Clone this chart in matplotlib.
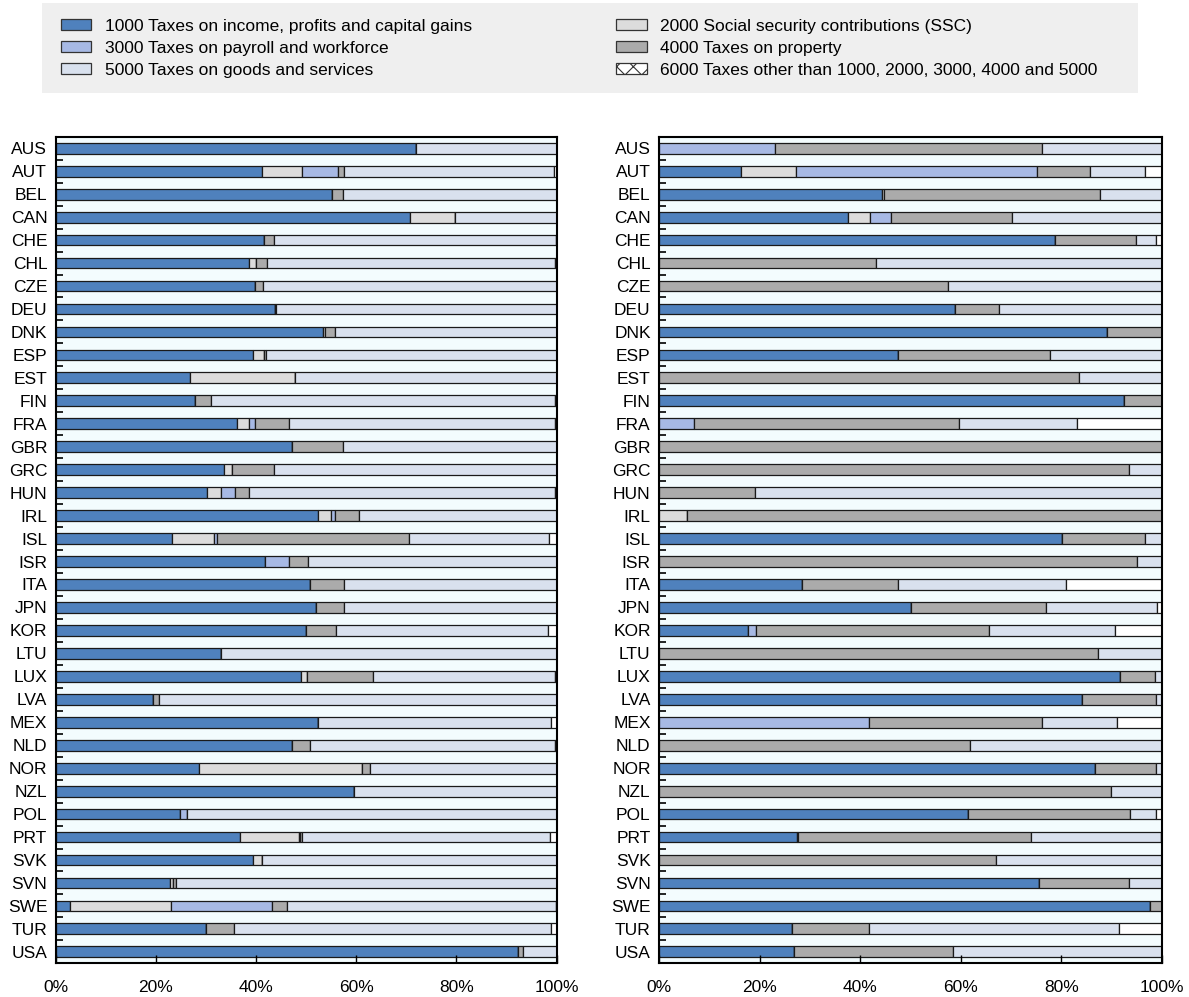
import matplotlib
matplotlib.use("Agg")
import matplotlib.pyplot as plt
from matplotlib.patches import Patch, Rectangle
from matplotlib.ticker import FixedLocator, PercentFormatter

plt.rcParams['font.family'] = ['Liberation Sans', 'DejaVu Sans']
plt.rcParams['hatch.linewidth'] = 0.8

countries = ['AUS', 'AUT', 'BEL', 'CAN', 'CHE', 'CHL', 'CZE', 'DEU', 'DNK', 'ESP', 'EST', 'FIN',
             'FRA', 'GBR', 'GRC', 'HUN', 'IRL', 'ISL', 'ISR', 'ITA', 'JPN', 'KOR', 'LTU', 'LUX',
             'LVA', 'MEX', 'NLD', 'NOR', 'NZL', 'POL', 'PRT', 'SVK', 'SVN', 'SWE', 'TUR', 'USA']

labels = ['1000 Taxes on income, profits and capital gains',
          '2000 Social security contributions (SSC)',
          '3000 Taxes on payroll and workforce',
          '4000 Taxes on property',
          '5000 Taxes on goods and services',
          '6000 Taxes other than 1000, 2000, 3000, 4000 and 5000']
colors = ['#4F81BD', '#DCDCDC', '#A7B9E4', '#ABABAB', '#D9E1EE', '#FFFFFF']

# shares (%) by tax category, left panel
left_1000 = [72.0, 41.2, 55.1, 70.8, 41.5, 38.5, 39.8, 43.7, 53.4, 39.4, 26.9, 27.9,
             36.2, 47.1, 33.7, 30.3, 52.4, 23.2, 41.8, 50.8, 52.0, 49.9, 33.0, 48.9,
             19.4, 52.3, 47.2, 28.6, 59.6, 24.9, 36.8, 39.3, 22.8, 2.8, 30.0, 92.2]
left_2000 = [0, 8.0, 0, 8.9, 0, 1.4, 0, 0, 0.4, 2.2, 20.8, 0,
             2.4, 0, 1.5, 2.8, 2.6, 8.4, 0, 0, 0, 0, 0, 1.2,
             0, 0, 0, 32.6, 0, 0, 11.8, 1.8, 0.7, 20.2, 0, 0]
left_3000 = [0, 7.1, 0, 0, 0, 0, 0, 0, 0, 0, 0, 0,
             1.1, 0, 0, 2.6, 0.7, 0.7, 4.8, 0, 0, 0, 0, 0,
             0, 0, 0, 0, 0, 1.4, 0.2, 0, 0, 20.1, 0, 0]
left_4000 = [0, 1.3, 2.3, 0, 2.0, 2.2, 1.5, 0.2, 2.0, 0.4, 0, 3.1,
             6.9, 10.2, 8.4, 2.8, 4.8, 38.3, 3.8, 6.8, 5.5, 6.1, 0, 13.3,
             1.2, 0, 3.6, 1.5, 0, 0, 0.4, 0, 0.6, 3.0, 5.6, 1.1]
left_5000 = [28.0, 41.9, 42.6, 20.3, 56.3, 57.5, 58.7, 56.1, 44.2, 58.0, 52.3, 68.6,
             53.0, 42.7, 56.4, 61.1, 39.5, 27.9, 49.6, 42.4, 42.5, 42.3, 67.0, 36.2,
             79.4, 46.6, 48.8, 37.3, 40.4, 73.7, 49.4, 58.9, 75.9, 53.7, 63.2, 6.7]
left_6000 = [0, 0.5, 0, 0, 0.2, 0.4, 0, 0, 0, 0, 0, 0.4,
             0.4, 0, 0, 0.4, 0, 1.5, 0, 0, 0, 1.7, 0, 0.4,
             0, 1.1, 0.4, 0, 0, 0, 1.4, 0, 0, 0.2, 1.2, 0]

# shares (%) by tax category, right panel
right_1000 = [0, 16.3, 44.3, 37.5, 78.7, 0, 0, 58.8, 89.1, 47.5, 0, 92.4,
              0, 0, 0, 0, 0, 80.2, 0, 28.5, 50.0, 17.6, 0, 91.6,
              84.0, 0, 0, 86.6, 0, 61.4, 27.4, 0, 75.5, 97.7, 26.5, 26.8]
right_2000 = [0, 11.0, 0.5, 4.5, 0, 0, 0, 0, 0, 0, 0, 0,
              0, 0, 0, 0, 5.5, 0, 0, 0, 0, 0, 0, 0,
              0, 0, 0, 0, 0, 0, 0.2, 0, 0, 0, 0, 0]
right_3000 = [23.1, 47.9, 0, 4.2, 0, 0, 0, 0, 0, 0, 0, 0,
              6.9, 0, 0, 0, 0, 0, 0, 0, 0, 1.6, 0, 0,
              0, 41.7, 0, 0, 0, 0, 0, 0, 0, 0, 0, 0]
right_4000 = [53.0, 10.5, 42.9, 23.9, 16.2, 43.1, 57.4, 8.7, 10.9, 30.2, 83.5, 7.6,
              52.8, 100.0, 93.5, 19.1, 94.5, 16.4, 95.1, 19.0, 26.9, 46.5, 87.2, 7.1,
              14.9, 34.5, 61.8, 12.3, 89.9, 32.2, 46.3, 67.0, 18.0, 2.3, 15.2, 31.7]
right_5000 = [23.9, 11.0, 12.3, 29.8, 4.0, 56.9, 42.6, 32.5, 0, 22.3, 16.5, 0,
              23.3, 0, 6.5, 80.9, 0, 3.4, 4.9, 33.5, 22.1, 25.0, 12.8, 1.3,
              1.1, 14.8, 38.2, 1.1, 10.1, 5.3, 25.9, 33.0, 6.5, 0, 49.7, 41.5]
right_6000 = [0, 3.3, 0, 0.1, 1.1, 0, 0, 0, 0, 0, 0, 0,
              17.0, 0, 0, 0, 0, 0, 0, 19.0, 1.0, 9.3, 0, 0,
              0, 9.0, 0, 0, 0, 1.1, 0.2, 0, 0, 0, 8.6, 0]

panels = [
    [left_1000, left_2000, left_3000, left_4000, left_5000, left_6000],
    [right_1000, right_2000, right_3000, right_4000, right_5000, right_6000],
]

fig = plt.figure(figsize=(11.89, 9.97), dpi=100)
ax_left = fig.add_axes([0.0468, 0.0338, 0.4214, 0.829])
ax_right = fig.add_axes([0.5543, 0.0338, 0.4230, 0.829])

ypos = list(range(len(countries)))
for ax, series in zip([ax_left, ax_right], panels):
    ax.set_facecolor('#F3FCFE')
    left = [0.0] * len(countries)
    for vals, col in zip(series, colors):
        ax.barh(ypos, vals, left=left, height=0.47, color=col,
                edgecolor='#1a1a1a', linewidth=0.9)
        left = [a + b for a, b in zip(left, vals)]
    ax.set_xlim(0, 100)
    ax.set_ylim(len(countries) - 0.5, -0.5)
    ax.set_yticks(ypos)
    ax.set_yticklabels(countries)
    ax.yaxis.set_minor_locator(FixedLocator([i + 0.5 for i in range(len(countries) - 1)]))
    ax.set_xticks([0, 20, 40, 60, 80, 100])
    ax.xaxis.set_major_formatter(PercentFormatter(decimals=0))
    ax.tick_params(axis='y', which='major', length=0, pad=6, labelsize=12.5)
    ax.tick_params(axis='y', which='minor', direction='in', length=5, width=1.2, color='black')
    ax.tick_params(axis='x', direction='in', length=6, width=1.0, pad=12, labelsize=12.5)
    for sp in ax.spines.values():
        sp.set_linewidth(1.5)
        sp.set_color('black')

# legend on a grey band above both panels
fig.patches.append(Rectangle((42 / 1189, 1 - 93 / 997), (1138 - 42) / 1189, 90 / 997,
                             transform=fig.transFigure, facecolor='#EFEFEF',
                             edgecolor='none', zorder=0))
order = [0, 2, 4, 1, 3, 5]
handles = []
for i in order:
    hatch = 'xx' if i == 5 else None
    handles.append(Patch(facecolor=colors[i], edgecolor='#333333', linewidth=0.9,
                         hatch=hatch, label=labels[i]))
fig.legend(handles=handles, ncol=2, loc='upper left', bbox_to_anchor=(52 / 1189, 1 - 10 / 997),
           frameon=False, fontsize=12.5, handlelength=1.75, handleheight=0.65,
           handletextpad=0.8, columnspacing=8.3, labelspacing=0.4, borderpad=0)

fig.savefig('out.png', dpi=100)
